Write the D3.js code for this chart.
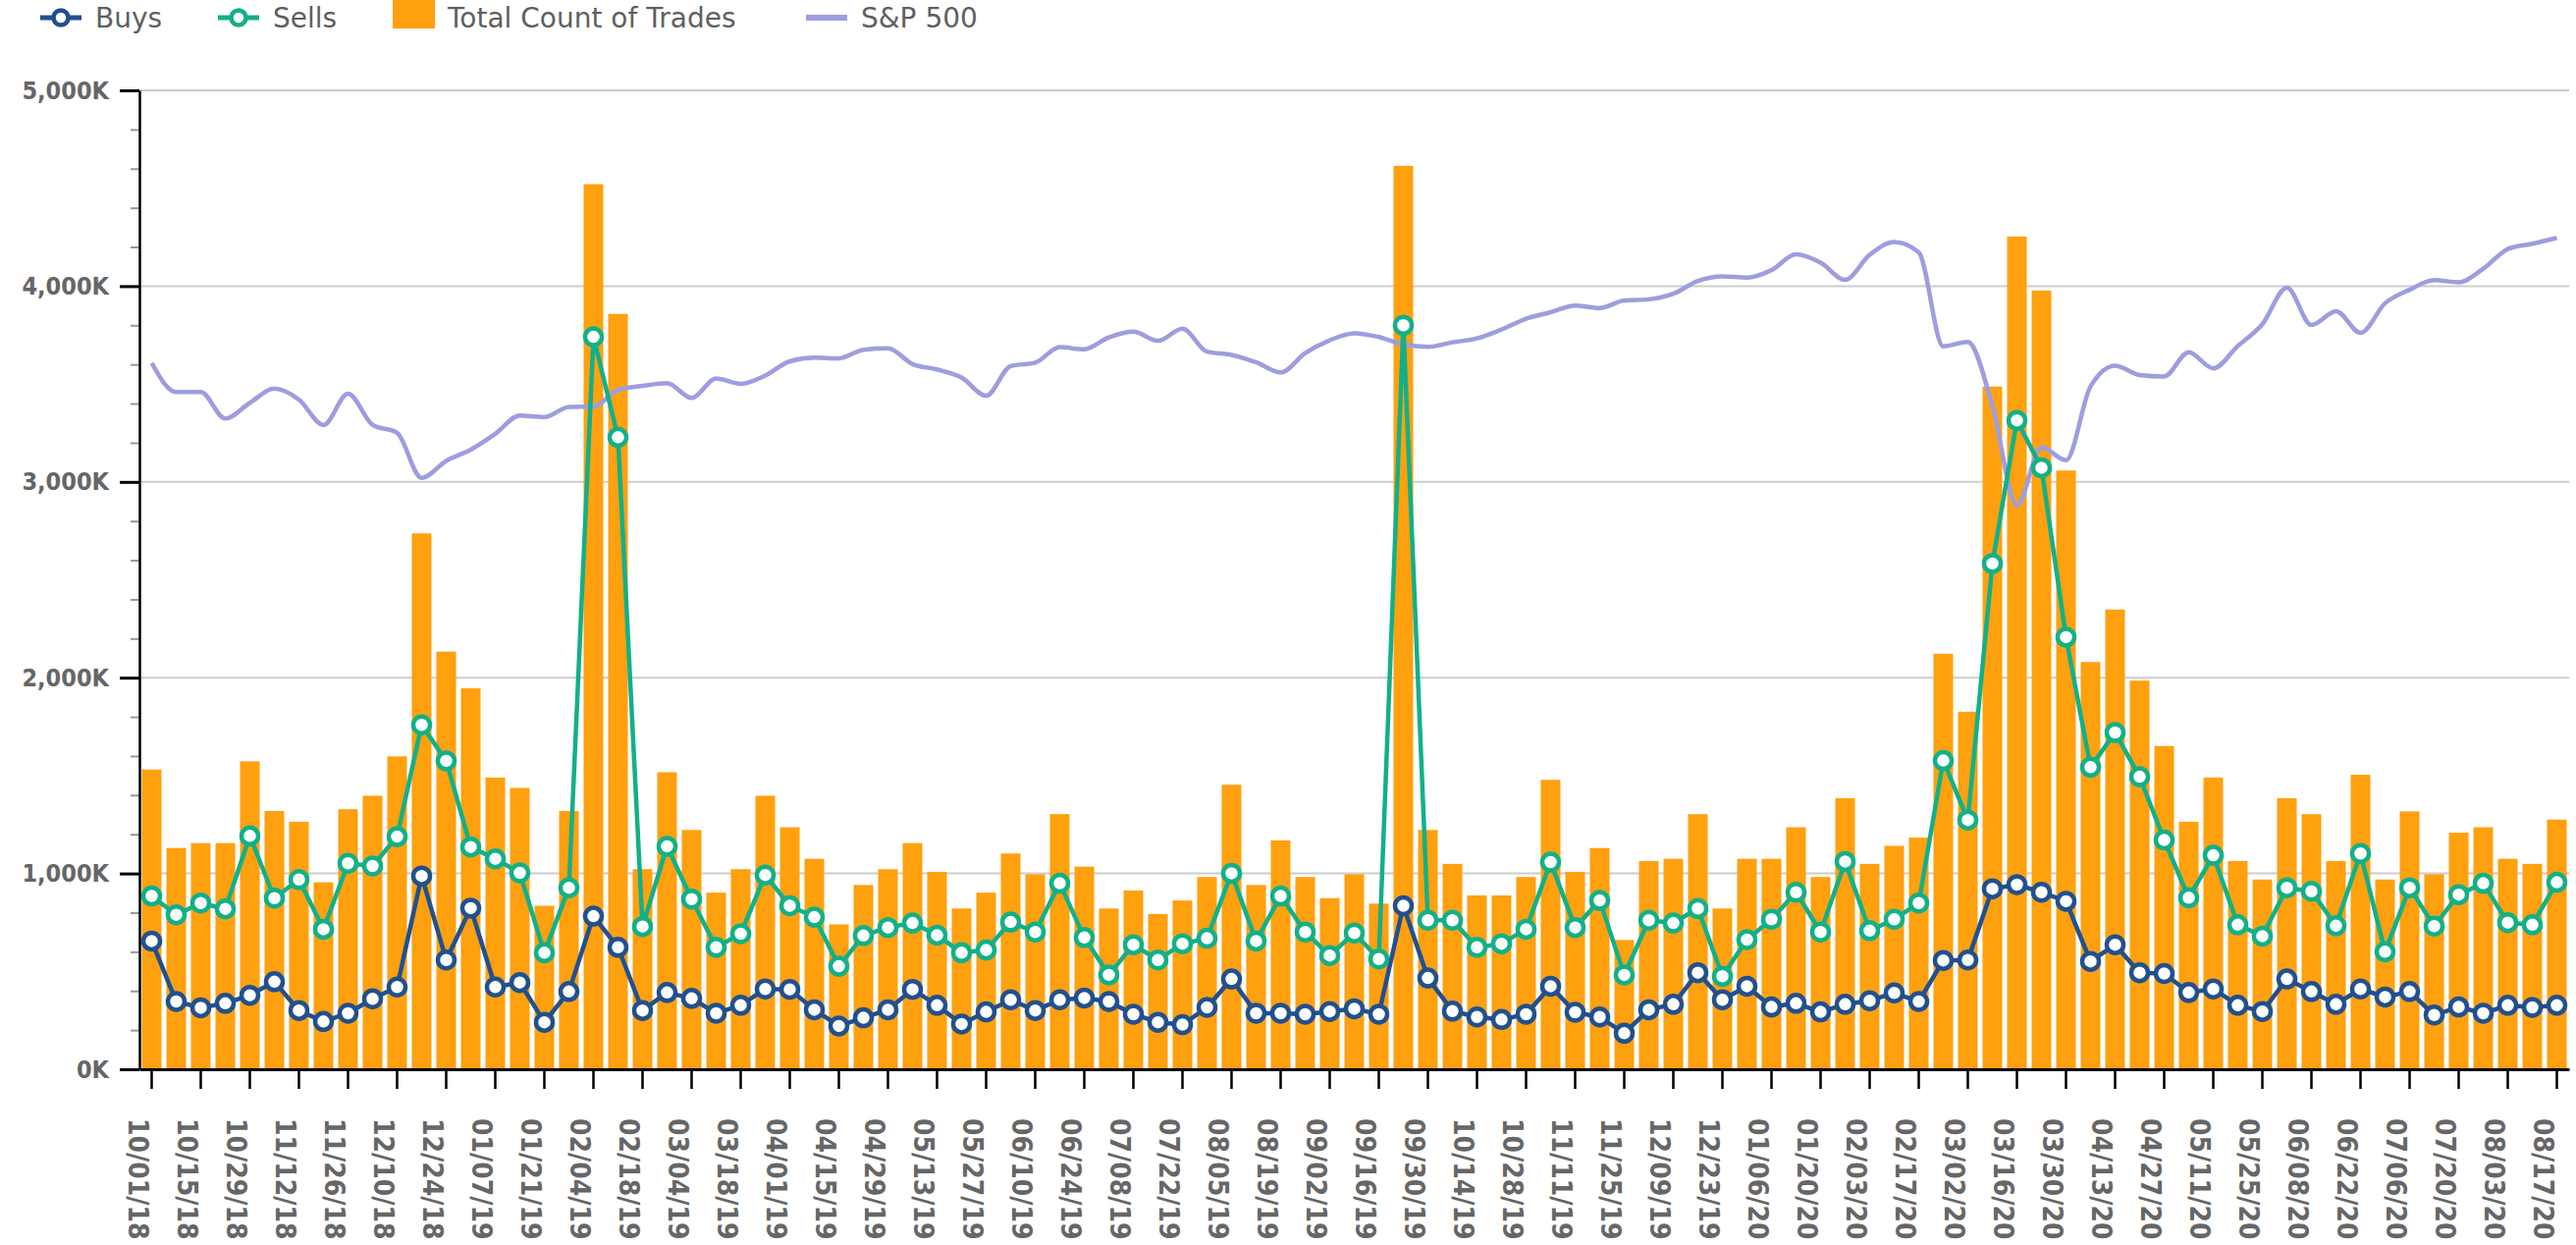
<!DOCTYPE html>
<html>
<head>
<meta charset="utf-8">
<script src="https://cdn.jsdelivr.net/npm/d3@7"></script>
<style>
    body { margin: 0; background: #fff; }
    svg { display: block; }
    .axis-text { font-family: "DejaVu Sans Condensed", "DejaVu Sans", sans-serif; font-stretch: condensed; font-weight: bold; fill: #666; }
    .legend-text { font-family: "DejaVu Sans", sans-serif; font-size: 28px; fill: #5f5f5f; }
</style>
</head>
<body>
<svg id="chart" width="2624" height="1268"></svg>
<script>
// Week starting dates (categories)
const weeks = [
    '10/01/18','10/08/18','10/15/18','10/22/18','10/29/18','11/05/18','11/12/18','11/19/18','11/26/18','12/03/18',
    '12/10/18','12/17/18','12/24/18','12/31/18','01/07/19','01/14/19','01/21/19','01/28/19','02/04/19','02/11/19',
    '02/18/19','02/25/19','03/04/19','03/11/19','03/18/19','03/25/19','04/01/19','04/08/19','04/15/19','04/22/19',
    '04/29/19','05/06/19','05/13/19','05/20/19','05/27/19','06/03/19','06/10/19','06/17/19','06/24/19','07/01/19',
    '07/08/19','07/15/19','07/22/19','07/29/19','08/05/19','08/12/19','08/19/19','08/26/19','09/02/19','09/09/19',
    '09/16/19','09/23/19','09/30/19','10/07/19','10/14/19','10/21/19','10/28/19','11/04/19','11/11/19','11/18/19',
    '11/25/19','12/02/19','12/09/19','12/16/19','12/23/19','12/30/19','01/06/20','01/13/20','01/20/20','01/27/20',
    '02/03/20','02/10/20','02/17/20','02/24/20','03/02/20','03/09/20','03/16/20','03/23/20','03/30/20','04/06/20',
    '04/13/20','04/20/20','04/27/20','05/04/20','05/11/20','05/18/20','05/25/20','06/01/20','06/08/20','06/15/20',
    '06/22/20','06/29/20','07/06/20','07/13/20','07/20/20','07/27/20','08/03/20','08/10/20','08/17/20'
];

// Total count of trades (K)
const trades = [
    1531,1130,1155,1155,1573,1319,1264,955,1328,1397,1598,2737,2133,1946,1490,1437,835,1319,4521,3858,
    1022,1517,1222,902,1022,1397,1236,1075,740,941,1022,1155,1008,821,902,1102,996,1303,1035,821,
    913,793,862,982,1453,941,1169,982,874,996,846,4614,1222,1049,888,888,982,1478,1008,1130,
    660,1063,1075,1303,821,1075,1075,1236,982,1384,1049,1141,1183,2122,1826,3487,4253,3977,3058,2080,
    2348,1985,1651,1264,1490,1063,969,1384,1303,1063,1504,969,1317,996,1208,1236,1075,1049,1275
];

// Buys (K)
const buys = [
    655,346,314,337,378,447,300,244,286,360,420,987,558,823,420,443,240,397,782,623,
    300,392,362,286,327,410,408,304,221,263,304,408,327,231,293,355,300,355,364,346,
    281,240,228,316,461,286,286,281,295,309,281,835,466,297,267,254,281,424,291,267,
    184,304,332,493,355,424,318,337,293,332,350,390,346,556,558,922,943,904,858,551,
    636,493,489,392,410,327,295,461,397,332,410,369,397,277,318,286,327,316,327
];

// Sells (K)
const sells = [
    885,789,849,819,1192,874,969,715,1052,1038,1188,1759,1575,1135,1075,1003,595,927,3741,3228,
    729,1139,869,623,692,992,835,777,526,683,724,747,685,595,609,752,701,950,673,482,
    636,558,641,669,1001,655,885,701,581,696,563,3800,761,761,623,641,715,1058,724,862,
    482,761,747,821,475,662,766,904,701,1061,708,766,849,1577,1273,2583,3314,3072,2207,1543,
    1720,1494,1171,876,1093,738,680,927,909,733,1102,600,927,731,892,950,749,738,955
];

// S&P 500 weekly close
const sp500 = [
    2885.6,2767.1,2767.8,2658.7,2723.1,2781.0,2736.3,2632.6,2760.2,2633.1,
    2600.0,2416.6,2485.7,2531.9,2596.3,2670.7,2664.8,2706.5,2707.9,2775.6,
    2792.7,2803.7,2743.1,2822.5,2800.7,2834.4,2892.7,2907.4,2905.0,2939.9,
    2945.6,2881.4,2859.5,2826.1,2752.1,2873.3,2887.0,2950.5,2941.8,2990.4,
    3013.8,2976.6,3025.9,2932.1,2918.7,2888.7,2847.1,2926.5,2978.7,3007.4,
    2992.1,2961.8,2952.0,2970.3,2986.2,3022.6,3066.9,3093.1,3120.5,3110.3,
    3141.0,3145.9,3168.8,3221.2,3240.0,3234.9,3265.4,3329.6,3295.5,3225.5,
    3327.7,3380.2,3337.8,2954.2,2972.4,2711.0,2304.9,2541.5,2488.7,2789.8,
    2874.6,2836.7,2830.7,2929.8,2863.7,2955.5,3044.3,3193.9,3041.3,3097.7,
    3009.1,3130.0,3185.0,3224.7,3215.6,3271.1,3351.3,3372.9,3397.2
];

// Y axis tick values (K)
const yTicks = [0, 1000, 2000, 3000, 4000, 5000];

const colors = { buys: '#21508f', sells: '#12b088', trades: '#ffa00f', sp: '#9d9ddf' };

const svg = d3.select('#chart');
const plot = { left: 142, right: 2617, top: 92, bottom: 1089 };

const x = d3.scaleBand()
    .domain(weeks)
    .range([plot.left, plot.right])
    .paddingInner(0.2)
    .paddingOuter(0.1);
const y = d3.scaleLinear().domain([0, 5000]).range([plot.bottom, plot.top]);
// S&P 500 sits on its own hidden scale
const ySP = d3.scaleLinear().domain([0, 4000]).range([plot.bottom, plot.top]);
const cx = d => x(d) + x.bandwidth() / 2;

// Horizontal grid lines
svg.append('g')
    .selectAll('line')
    .data(yTicks.filter(d => d > 0))
    .enter()
    .append('line')
    .attr('x1', plot.left)
    .attr('x2', plot.right)
    .attr('y1', d => y(d))
    .attr('y2', d => y(d))
    .attr('stroke', '#cccccc')
    .attr('stroke-width', 2);

// Bars
svg.append('g')
    .selectAll('rect')
    .data(trades)
    .enter()
    .append('rect')
    .attr('x', (d, i) => x(weeks[i]))
    .attr('y', d => y(d))
    .attr('width', x.bandwidth())
    .attr('height', d => plot.bottom - y(d))
    .attr('fill', colors.trades);

// S&P 500 line
svg.append('path')
    .datum(sp500)
    .attr('fill', 'none')
    .attr('stroke', colors.sp)
    .attr('stroke-width', 4.5)
    .attr('d', d3.line()
        .x((d, i) => cx(weeks[i]))
        .y(d => ySP(d))
        .curve(d3.curveMonotoneX));

// Buys / sells lines with hollow markers
function addSeries(values, color) {
    const g = svg.append('g');
    g.append('path')
        .datum(values)
        .attr('fill', 'none')
        .attr('stroke', color)
        .attr('stroke-width', 4.5)
        .attr('stroke-linejoin', 'round')
        .attr('d', d3.line()
            .x((d, i) => cx(weeks[i]))
            .y(d => y(d)));
    g.selectAll('circle')
        .data(values)
        .enter()
        .append('circle')
        .attr('cx', (d, i) => cx(weeks[i]))
        .attr('cy', d => y(d))
        .attr('r', 8.5)
        .attr('fill', '#fff')
        .attr('stroke', color)
        .attr('stroke-width', 4.5);
}
addSeries(buys, colors.buys);
addSeries(sells, colors.sells);

// Y axis: minor ticks then major ticks
svg.append('g')
    .attr('transform', `translate(${plot.left},0)`)
    .call(d3.axisLeft(y)
        .tickValues(d3.range(200, 5000, 200).filter(d => d % 1000 !== 0))
        .tickSize(9)
        .tickSizeOuter(0)
        .tickFormat(''))
    .call(g => g.select('.domain').remove())
    .call(g => g.selectAll('line').attr('stroke', '#999').attr('stroke-width', 2));

const yAxis = svg.append('g')
    .attr('transform', `translate(${plot.left},0)`)
    .call(d3.axisLeft(y)
        .tickValues(yTicks)
        .tickSize(20)
        .tickSizeOuter(0)
        .tickPadding(11)
        .tickFormat(d => d3.format(',')(d) + 'K'));
yAxis.select('.domain').attr('stroke', '#000').attr('stroke-width', 2.5);
yAxis.selectAll('line').attr('stroke', '#000').attr('stroke-width', 3);
yAxis.selectAll('text')
    .attr('class', 'axis-text')
    .style('font-size', '25px');

// X axis, labelled every second week
const xAxis = svg.append('g')
    .attr('transform', `translate(0,${plot.bottom})`)
    .call(d3.axisBottom(x)
        .tickValues(weeks.filter((d, i) => i % 2 === 0))
        .tickSize(20)
        .tickSizeOuter(0));
xAxis.select('.domain').attr('stroke', '#000').attr('stroke-width', 3);
xAxis.selectAll('line').attr('stroke', '#000').attr('stroke-width', 2.5);
xAxis.selectAll('text')
    .attr('class', 'axis-text')
    .style('font-size', '28px')
    .attr('transform', 'rotate(90)')
    .attr('x', 50)
    .attr('y', 24)
    .attr('dy', 0)
    .style('text-anchor', 'start');

// Legend
const legend = svg.append('g');
[['Buys', colors.buys, 41, 97], ['Sells', colors.sells, 222, 278]].forEach(([name, color, lx, tx]) => {
    legend.append('line')
        .attr('x1', lx).attr('x2', lx + 42)
        .attr('y1', 18).attr('y2', 18)
        .attr('stroke', color).attr('stroke-width', 5);
    legend.append('circle')
        .attr('cx', lx + 21).attr('cy', 18).attr('r', 7.5)
        .attr('fill', '#fff').attr('stroke', color).attr('stroke-width', 4.5);
    legend.append('text')
        .attr('class', 'legend-text')
        .attr('x', tx).attr('y', 28)
        .text(name);
});
legend.append('rect')
    .attr('x', 400).attr('y', -14)
    .attr('width', 43).attr('height', 43)
    .attr('fill', colors.trades);
legend.append('text')
    .attr('class', 'legend-text')
    .attr('x', 456).attr('y', 28)
    .text('Total Count of Trades');
legend.append('line')
    .attr('x1', 821).attr('x2', 863)
    .attr('y1', 18).attr('y2', 18)
    .attr('stroke', colors.sp).attr('stroke-width', 6);
legend.append('text')
    .attr('class', 'legend-text')
    .attr('x', 877).attr('y', 28)
    .text('S&P 500');
</script>
</body>
</html>
